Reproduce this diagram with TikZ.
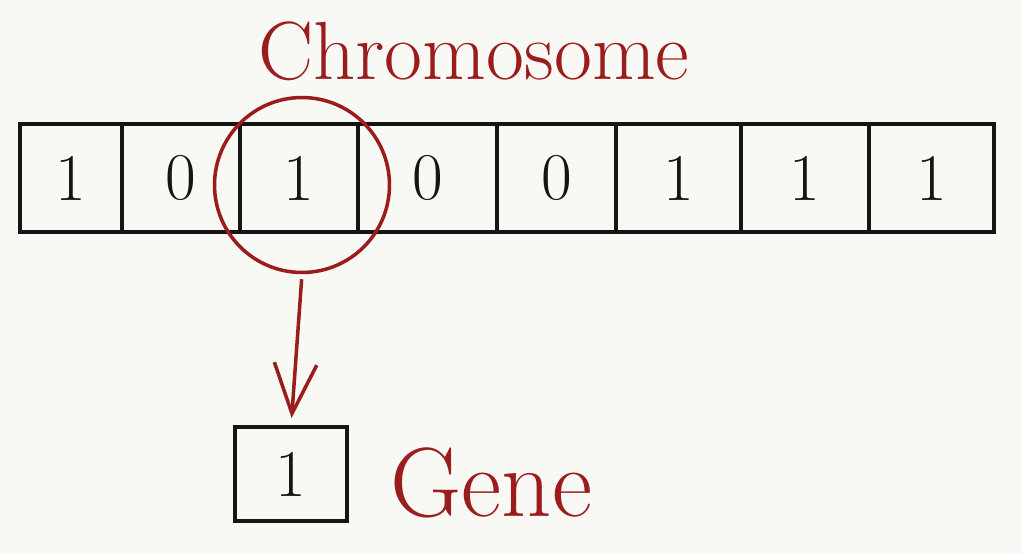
\documentclass[tikz,border=0pt]{standalone}
\usepackage{tikz}
\usepackage{xcolor}
\usetikzlibrary{arrows.meta,positioning}

\definecolor{pen}{HTML}{9B1C1C}
\definecolor{paper}{HTML}{F8F8F4}
\definecolor{ink}{HTML}{151515}

\begin{document}
\begin{tikzpicture}[
    x=0.02cm, y=-0.02cm,
    cell/.style={draw=ink, line width=2.2pt, outer sep=0pt, inner sep=0pt,
                 minimum height=2.16cm, text=ink,
                 font=\fontsize{38}{40}\selectfont},
    redtext/.style={text=pen, inner sep=0pt},
    arr/.style={-{Straight Barb[length=10mm, width=8.5mm]}, line width=2pt, draw=pen}
]

\fill[paper] (0,0) rectangle (1022,554);

% the chromosome
\node[cell, minimum width=2.04cm, anchor=north west] (c1) at (20,124) {1};
\node[cell, minimum width=2.36cm, right=0pt of c1] (c2) {0};
\node[cell, minimum width=2.36cm, right=0pt of c2] (c3) {1};
\node[cell, minimum width=2.78cm, right=0pt of c3] (c4) {0};
\node[cell, minimum width=2.38cm, right=0pt of c4] (c5) {0};
\node[cell, minimum width=2.50cm, right=0pt of c5] (c6) {1};
\node[cell, minimum width=2.56cm, right=0pt of c6] (c7) {1};
\node[cell, minimum width=2.50cm, right=0pt of c7] (c8) {1};

\node[redtext, anchor=base west, font=\fontsize{47}{49}\selectfont]
    (title) at (258,80) {Chromosome};

% picked gene
\node[draw=pen, line width=2pt, circle, minimum size=3.5cm] (ring) at (302,185) {};

\node[cell, minimum width=2.24cm, minimum height=1.88cm, anchor=north west]
    (gene) at (235,427) {1};
\node[redtext, anchor=base west, font=\fontsize{56}{58}\selectfont]
    (genelabel) at (390,516) {Gene};

\draw[arr, shorten <=0.1cm, shorten >=0.18cm] (ring.south) -- (gene.north);

\end{tikzpicture}
\end{document}
